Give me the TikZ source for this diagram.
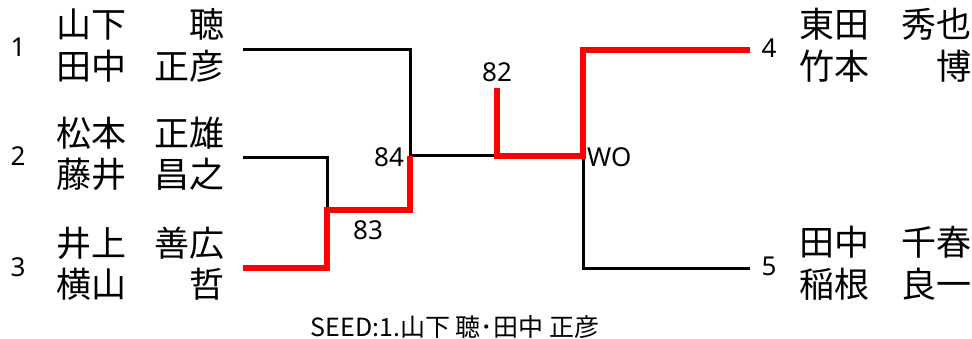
\documentclass[tikz,border=0pt]{standalone}
\usepackage{fontspec}
\setmainfont{Noto Sans}
\newfontfamily\cjk{Noto Sans CJK JP}
\usetikzlibrary{positioning}

\tikzset{
  line/.style={line width=3pt},
  win/.style={line width=6.5pt,red},
  seedno/.style={font=\fontsize{26}{26}\selectfont,inner sep=0pt},
  score/.style={font=\fontsize{26}{26}\selectfont,inner sep=0pt},
  pair/.style={font=\cjk\fontsize{35}{40}\selectfont,inner sep=0pt,yshift=-2pt},
}
% two players of a pair, family name left, given name right
\newcommand\leftpair[4]{\begin{tabular*}{186pt}{@{}l@{\extracolsep{\fill}}r@{\hspace{18pt}}}#1&#2\\#3&#4\end{tabular*}}
\newcommand\rightpair[4]{\begin{tabular*}{221pt}{@{\hspace{49pt}}l@{\extracolsep{\fill}}r@{}}#1&#2\\#3&#4\end{tabular*}}

\begin{document}
\begin{tikzpicture}[x=1pt,y=-1pt]
\useasboundingbox (0,0) rectangle (972,339);
% entries
\node (e1) [pair,anchor=east] at (243,48) {\leftpair{山下}{聴}{田中}{正彦}};
\node (e2) [pair,anchor=east] at (243,156) {\leftpair{松本}{正雄}{藤井}{昌之}};
\node (e3) [pair,anchor=east] at (243,266) {\leftpair{井上}{善広}{横山}{哲}};
\node (e4) [pair,anchor=west] at (750,48) {\rightpair{東田}{秀也}{竹本}{博}};
\node (e5) [pair,anchor=west] at (750,266) {\rightpair{田中}{千春}{稲根}{良一}};
\node (s1) [seedno] at (18,47) {1};
\node (s2) [seedno] at (18,156) {2};
\node (s3) [seedno] at (18,267) {3};
\node (s4) [seedno] at (769,48) {4};
\node (s5) [seedno] at (769,266) {5};
% match points
\coordinate (m23) at (327,210);
\coordinate (m123) at (410,156);
\coordinate (m45) at (583,156);
\coordinate (fin) at (497,88);
\draw[line] (e1.east) -| (m123);
\draw[line] (e2.east) -| (m23);
\draw[line] (m123) -- (m123 -| fin);
\draw[line] (m45) |- (e5.west);
\draw[win] (e3.east) -| (m23) -| (m123);
\draw[win] (fin) |- (m45) |- (e4.west);
% scores
\node (r84) [score] at (389,157) {84};
\node (r83) [score] at (368,230) {83};
\node (r82) [score] at (497,72) {82};
\node (rwo) [score,anchor=west] at (587,157) {WO};
\node (cap) [font=\cjk\fontsize{25}{25}\selectfont,inner sep=0pt] at (455,327) {SEED:1.山下 聴･田中 正彦};
\end{tikzpicture}
\end{document}
